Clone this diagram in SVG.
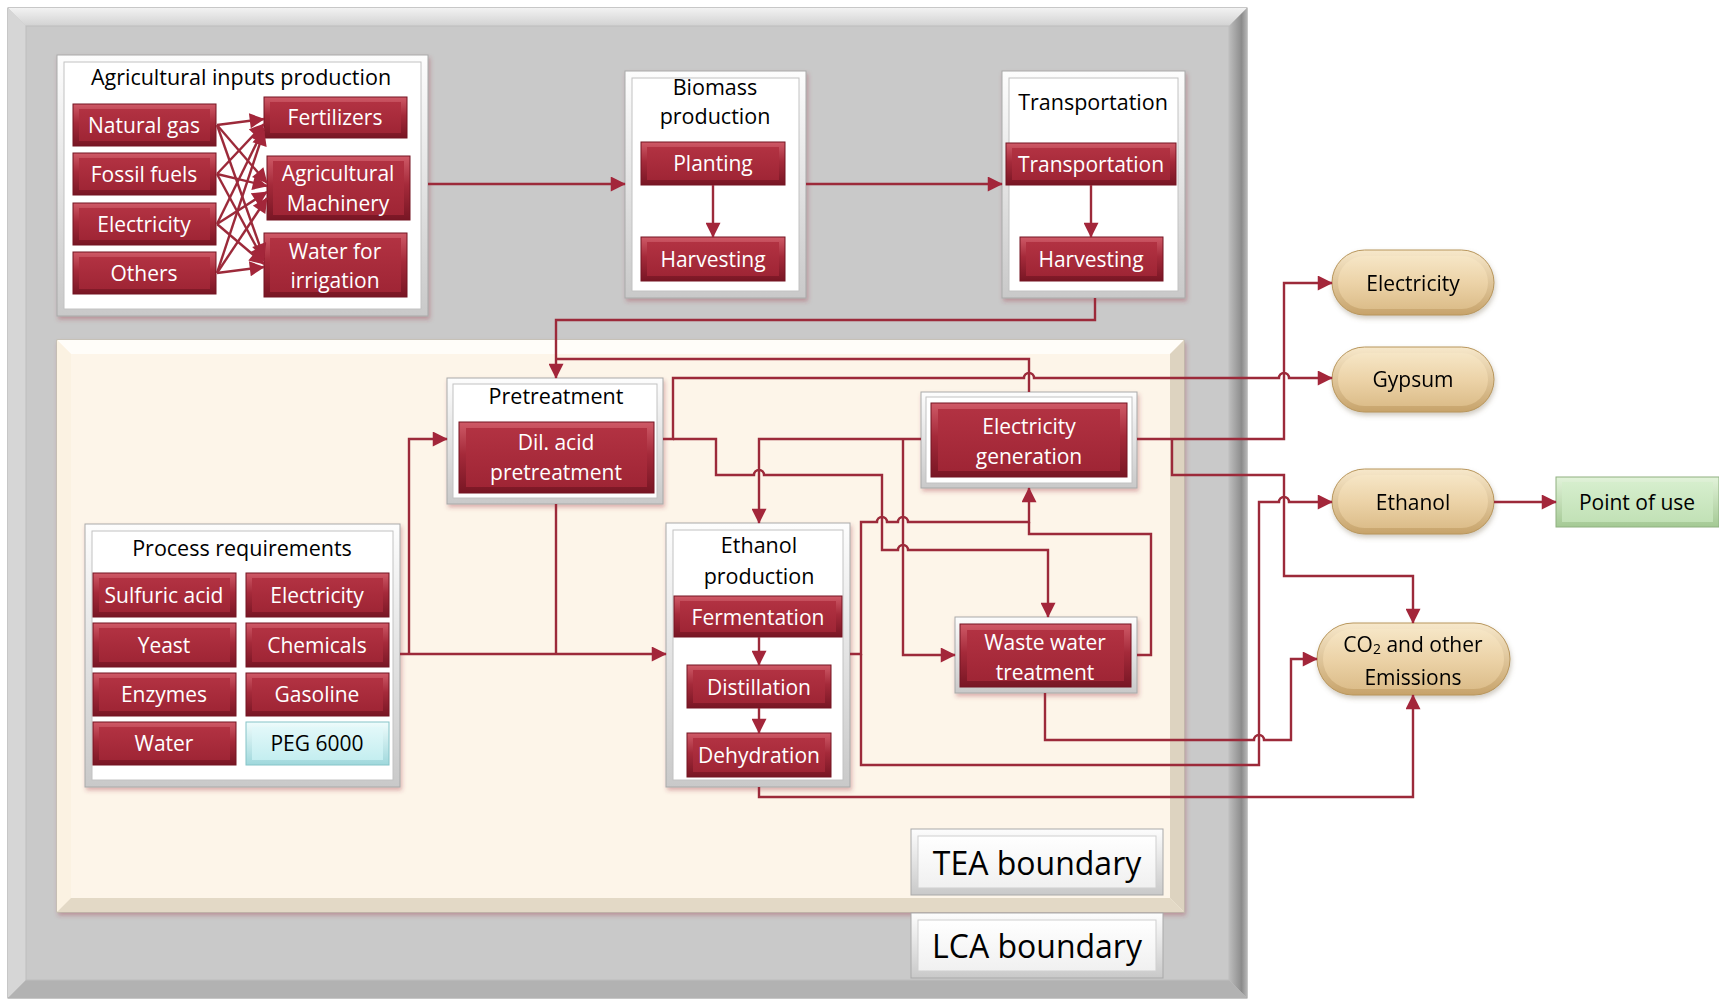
<svg xmlns="http://www.w3.org/2000/svg" width="1719" height="1001" viewBox="0 0 1719 1001">
<defs>
<linearGradient id="gRedO" x1="0" y1="0" x2="0" y2="1"><stop offset="0" stop-color="#cf5a67"/><stop offset="0.45" stop-color="#a52a3a"/><stop offset="1" stop-color="#781624"/></linearGradient>
<linearGradient id="gRedI" x1="0" y1="0" x2="0" y2="1"><stop offset="0" stop-color="#b23242"/><stop offset="1" stop-color="#9f2535"/></linearGradient>
<linearGradient id="gPill" x1="0" y1="0" x2="0" y2="1"><stop offset="0" stop-color="#f7e8cb"/><stop offset="1" stop-color="#c7a36a"/></linearGradient>
<linearGradient id="gPillIn" x1="0" y1="0" x2="0" y2="1"><stop offset="0" stop-color="#f6e6c6"/><stop offset="0.5" stop-color="#ecd3a8"/><stop offset="1" stop-color="#dcbd8a"/></linearGradient>
<linearGradient id="gGreen" x1="0" y1="0" x2="0" y2="1"><stop offset="0" stop-color="#e2f3da"/><stop offset="1" stop-color="#a4c994"/></linearGradient>
<linearGradient id="gGreenIn" x1="0" y1="0" x2="0" y2="1"><stop offset="0" stop-color="#d6eecd"/><stop offset="1" stop-color="#c2e1b6"/></linearGradient>
<linearGradient id="gCyan" x1="0" y1="0" x2="0" y2="1"><stop offset="0" stop-color="#effcfc"/><stop offset="1" stop-color="#9fd8dc"/></linearGradient>
<linearGradient id="gCyanIn" x1="0" y1="0" x2="0" y2="1"><stop offset="0" stop-color="#e2f8f9"/><stop offset="1" stop-color="#c4eef0"/></linearGradient>
<linearGradient id="gFrame" x1="0" y1="0" x2="0" y2="1"><stop offset="0" stop-color="#fdfdfd"/><stop offset="1" stop-color="#c9c9c9"/></linearGradient>
<linearGradient id="gLabel" x1="0" y1="0" x2="0" y2="1"><stop offset="0" stop-color="#ffffff"/><stop offset="1" stop-color="#f0f0f0"/></linearGradient>
<linearGradient id="gTopG" x1="0" y1="0" x2="0" y2="1"><stop offset="0" stop-color="#f2f2f2"/><stop offset="1" stop-color="#d2d2d2"/></linearGradient>
<linearGradient id="gRightG" x1="0" y1="0" x2="1" y2="0"><stop offset="0" stop-color="#bdbdbd"/><stop offset="0.7" stop-color="#8c8c8c"/><stop offset="1" stop-color="#b5b5b5"/></linearGradient>
<marker id="ah" viewBox="0 0 10 10" refX="9.5" refY="5" markerWidth="16" markerHeight="15" markerUnits="userSpaceOnUse" orient="auto"><path d="M0,0L10,5L0,10z" fill="#a3263a"/></marker>
<filter id="sh" x="-10%" y="-10%" width="125%" height="125%"><feDropShadow dx="1.5" dy="3" stdDeviation="2" flood-color="#a03444" flood-opacity="0.35"/></filter>
<filter id="shg" x="-10%" y="-10%" width="125%" height="130%"><feDropShadow dx="1" dy="3" stdDeviation="2.5" flood-color="#7a6a50" flood-opacity="0.35"/></filter>
</defs>
<style>
.c{fill:none;stroke:#9c2a3a;stroke-width:2.4}
.ca{fill:none;stroke:#9c2a3a;stroke-width:2.4;marker-end:url(#ah)}
text{font-family:"Open Sans","Liberation Sans",sans-serif;text-anchor:middle;dominant-baseline:central}
.w{fill:#ffffff;font-size:21px}
.k{fill:#000000;font-size:21px}
.t{fill:#000000;font-size:21.5px}
.big{fill:#000000;font-size:32px}
.ro{fill:url(#gRedO);stroke:#741522;stroke-width:1}
.ri{fill:url(#gRedI)}
.fo{fill:url(#gFrame);stroke:#a9a9a9;stroke-width:1}
.fi{fill:#ffffff;stroke:#c2c2c2;stroke-width:1}
.po{fill:url(#gPill);stroke:#b8965c;stroke-width:1}
.pi{fill:url(#gPillIn)}
</style>

<!-- LCA boundary (gray) -->
<g id="lca-area">
<rect x="8" y="8" width="1239" height="990" fill="#c9c9c9" stroke="#8f8f8f"/>
<polygon points="8,8 1247,8 1229,26 26,26" fill="url(#gTopG)"/>
<polygon points="8,8 26,26 26,980 8,998" fill="#d6d6d6"/>
<polygon points="1247,8 1247,998 1229,980 1229,26" fill="url(#gRightG)"/>
<polygon points="8,998 1247,998 1229,980 26,980" fill="#b2b2b2"/>
<rect x="26" y="26" width="1203" height="954" fill="#c9c9c9" stroke="#bdbdbd"/>
</g>

<!-- TEA boundary (beige) -->
<g id="tea-area" filter="url(#sh)">
<rect x="57" y="340" width="1127" height="572" fill="#fdf5e9" stroke="#c4bba8"/>
<polygon points="57,340 1184,340 1170,354 71,354" fill="#fffdf9"/>
<polygon points="57,340 71,354 71,898 57,912" fill="#fbf2e2"/>
<polygon points="1184,340 1184,912 1170,898 1170,354" fill="#ddd3c0"/>
<polygon points="57,912 1184,912 1170,898 71,898" fill="#e3d9c6"/>
<rect x="71" y="354" width="1099" height="544" fill="#fdf5e9"/>
</g>

<!-- Agricultural inputs production -->
<g id="agri">
<rect class="fo" x="57" y="55" width="371" height="261" filter="url(#sh)"/>
<rect class="fi" x="64" y="62" width="357" height="247"/>
<text class="t" x="241" y="76">Agricultural inputs production</text>
</g>
<g id="natural-gas"><rect class="ro" x="73" y="104" width="143" height="42"/><rect class="ri" x="79" y="109" width="131" height="32"/><text class="w" x="144" y="125">Natural gas</text></g>
<g id="fossil-fuels"><rect class="ro" x="73" y="153" width="143" height="42"/><rect class="ri" x="79" y="158" width="131" height="32"/><text class="w" x="144" y="174">Fossil fuels</text></g>
<g id="agri-electricity"><rect class="ro" x="73" y="203" width="143" height="42"/><rect class="ri" x="79" y="208" width="131" height="32"/><text class="w" x="144" y="224">Electricity</text></g>
<g id="others"><rect class="ro" x="73" y="252" width="143" height="42"/><rect class="ri" x="79" y="257" width="131" height="32"/><text class="w" x="144" y="273">Others</text></g>
<g id="fertilizers"><rect class="ro" x="264" y="97" width="143" height="41"/><rect class="ri" x="270" y="102" width="131" height="31"/><text class="w" x="335" y="117">Fertilizers</text></g>
<g id="agri-machinery"><rect class="ro" x="267" y="156" width="143" height="64"/><rect class="ri" x="273" y="161" width="131" height="54"/><text class="w" x="338" y="173">Agricultural</text><text class="w" x="338" y="203">Machinery</text></g>
<g id="water-irrigation"><rect class="ro" x="264" y="233" width="143" height="64"/><rect class="ri" x="270" y="238" width="131" height="54"/><text class="w" x="335" y="251">Water for</text><text class="w" x="335" y="280">irrigation</text></g>

<!-- Biomass production -->
<g id="biomass">
<rect class="fo" x="625" y="71" width="181" height="227" filter="url(#sh)"/>
<rect class="fi" x="632" y="78" width="167" height="213"/>
<text class="t" x="715" y="86">Biomass</text>
<text class="t" x="715" y="115">production</text>
</g>
<g id="planting"><rect class="ro" x="641" y="142" width="144" height="43"/><rect class="ri" x="647" y="147" width="132" height="33"/><text class="w" x="713" y="163">Planting</text></g>
<g id="harvesting-1"><rect class="ro" x="641" y="237" width="144" height="44"/><rect class="ri" x="647" y="242" width="132" height="34"/><text class="w" x="713" y="259">Harvesting</text></g>

<!-- Transportation -->
<g id="transportation">
<rect class="fo" x="1002" y="71" width="183" height="227" filter="url(#sh)"/>
<rect class="fi" x="1009" y="78" width="169" height="213"/>
<text class="t" x="1093" y="101">Transportation</text>
</g>
<g id="transportation-step"><rect class="ro" x="1006" y="143" width="170" height="42"/><rect class="ri" x="1012" y="148" width="158" height="32"/><text class="w" x="1091" y="164">Transportation</text></g>
<g id="harvesting-2"><rect class="ro" x="1020" y="237" width="143" height="44"/><rect class="ri" x="1026" y="242" width="131" height="34"/><text class="w" x="1091" y="259">Harvesting</text></g>

<!-- Pretreatment -->
<g id="pretreatment">
<rect class="fo" x="447" y="378" width="216" height="126" filter="url(#sh)"/>
<rect class="fi" x="453" y="384" width="204" height="114"/>
<text class="t" x="556" y="395">Pretreatment</text>
<rect class="ro" x="459" y="422" width="195" height="71"/><rect class="ri" x="466" y="428" width="181" height="59"/>
<text class="w" x="556" y="442">Dil. acid</text><text class="w" x="556" y="472">pretreatment</text>
</g>

<!-- Electricity generation -->
<g id="electricity-generation">
<rect class="fo" x="921" y="392" width="216" height="96" filter="url(#sh)"/>
<rect class="fi" x="926" y="397" width="206" height="86"/>
<rect class="ro" x="931" y="403" width="196" height="74"/><rect class="ri" x="938" y="409" width="182" height="62"/>
<text class="w" x="1029" y="426">Electricity</text><text class="w" x="1029" y="456">generation</text>
</g>

<!-- Ethanol production -->
<g id="ethanol-production">
<rect class="fo" x="666" y="523" width="184" height="264" filter="url(#sh)"/>
<rect class="fi" x="673" y="530" width="170" height="250"/>
<text class="t" x="759" y="544">Ethanol</text>
<text class="t" x="759" y="575">production</text>
</g>
<g id="fermentation"><rect class="ro" x="674" y="596" width="168" height="41"/><rect class="ri" x="680" y="601" width="156" height="31"/><text class="w" x="758" y="617">Fermentation</text></g>
<g id="distillation"><rect class="ro" x="687" y="665" width="144" height="43"/><rect class="ri" x="693" y="670" width="132" height="33"/><text class="w" x="759" y="687">Distillation</text></g>
<g id="dehydration"><rect class="ro" x="687" y="733" width="144" height="44"/><rect class="ri" x="693" y="738" width="132" height="34"/><text class="w" x="759" y="755">Dehydration</text></g>

<!-- Waste water treatment -->
<g id="waste-water">
<rect class="fo" x="955" y="617" width="182" height="76" filter="url(#sh)"/>
<rect class="ro" x="960" y="624" width="171" height="63"/><rect class="ri" x="967" y="630" width="157" height="51"/>
<text class="w" x="1045" y="642">Waste water</text><text class="w" x="1045" y="672">treatment</text>
</g>

<!-- Process requirements -->
<g id="process-requirements">
<rect class="fo" x="85" y="524" width="315" height="263" filter="url(#sh)"/>
<rect class="fi" x="92" y="531" width="301" height="249"/>
<text class="t" x="242" y="547">Process requirements</text>
</g>
<g id="sulfuric-acid"><rect class="ro" x="93" y="573" width="143" height="44"/><rect class="ri" x="99" y="578" width="131" height="34"/><text class="w" x="164" y="595">Sulfuric acid</text></g>
<g id="yeast"><rect class="ro" x="93" y="623" width="143" height="44"/><rect class="ri" x="99" y="628" width="131" height="34"/><text class="w" x="164" y="645">Yeast</text></g>
<g id="enzymes"><rect class="ro" x="93" y="673" width="143" height="43"/><rect class="ri" x="99" y="678" width="131" height="33"/><text class="w" x="164" y="694">Enzymes</text></g>
<g id="water"><rect class="ro" x="93" y="722" width="143" height="43"/><rect class="ri" x="99" y="727" width="131" height="33"/><text class="w" x="164" y="743">Water</text></g>
<g id="proc-electricity"><rect class="ro" x="246" y="573" width="143" height="44"/><rect class="ri" x="252" y="578" width="131" height="34"/><text class="w" x="317" y="595">Electricity</text></g>
<g id="chemicals"><rect class="ro" x="246" y="623" width="143" height="44"/><rect class="ri" x="252" y="628" width="131" height="34"/><text class="w" x="317" y="645">Chemicals</text></g>
<g id="gasoline"><rect class="ro" x="246" y="673" width="143" height="43"/><rect class="ri" x="252" y="678" width="131" height="33"/><text class="w" x="317" y="694">Gasoline</text></g>
<g id="peg-6000"><rect x="246" y="722" width="143" height="43" fill="url(#gCyan)" stroke="#86c4c8"/><rect x="252" y="727" width="131" height="33" fill="url(#gCyanIn)"/><text class="k" x="317" y="743">PEG 6000</text></g>

<!-- Boundary labels -->
<g id="tea-label"><rect class="fo" x="911" y="829" width="252" height="66"/><rect x="918" y="836" width="238" height="52" fill="url(#gLabel)" stroke="#cfcfcf"/><text class="big" x="1037" y="862">TEA boundary</text></g>
<g id="lca-label"><rect class="fo" x="911" y="913" width="252" height="65"/><rect x="918" y="920" width="238" height="51" fill="url(#gLabel)" stroke="#cfcfcf"/><text class="big" x="1037" y="945">LCA boundary</text></g>

<!-- Outputs -->
<g id="out-electricity" filter="url(#shg)"><rect class="po" x="1332" y="250" width="162" height="65" rx="32.5"/><rect class="pi" x="1338" y="256" width="150" height="53" rx="26.5"/><text class="k" x="1413" y="283">Electricity</text></g>
<g id="out-gypsum" filter="url(#shg)"><rect class="po" x="1332" y="347" width="162" height="65" rx="32.5"/><rect class="pi" x="1338" y="353" width="150" height="53" rx="26.5"/><text class="k" x="1413" y="379">Gypsum</text></g>
<g id="out-ethanol" filter="url(#shg)"><rect class="po" x="1332" y="469" width="162" height="65" rx="32.5"/><rect class="pi" x="1338" y="475" width="150" height="53" rx="26.5"/><text class="k" x="1413" y="502">Ethanol</text></g>
<g id="out-co2" filter="url(#shg)"><rect class="po" x="1317" y="623" width="193" height="72" rx="36"/><rect class="pi" x="1323" y="629" width="181" height="60" rx="30"/><text class="k" x="1413" y="644">CO<tspan font-size="14" dy="4">2</tspan><tspan dy="-4"> and other</tspan></text><text class="k" x="1413" y="677">Emissions</text></g>
<g id="point-of-use"><rect x="1556" y="477" width="163" height="50" fill="url(#gGreen)" stroke="#8fb080"/><rect x="1562" y="482" width="151" height="40" fill="url(#gGreenIn)"/><text class="k" x="1637" y="502">Point of use</text></g>

<!-- Connectors -->
<g id="connectors">
<path class="ca" d="M217,125 L264,119"/>
<path class="ca" d="M217,174 L264,124"/>
<path class="ca" d="M217,224 L264,128"/>
<path class="ca" d="M217,273 L264,131"/>
<path class="ca" d="M217,125 L267,183"/>
<path class="ca" d="M217,174 L267,186"/>
<path class="ca" d="M217,224 L267,192"/>
<path class="ca" d="M217,273 L267,198"/>
<path class="ca" d="M217,125 L264,258"/>
<path class="ca" d="M217,174 L264,261"/>
<path class="ca" d="M217,224 L264,264"/>
<path class="ca" d="M217,273 L264,267"/>

<path class="ca" d="M428,184 H625"/>
<path class="ca" d="M806,184 H1002"/>
<path class="ca" d="M713,185 V237"/>
<path class="ca" d="M1091,185 V237"/>
<path class="ca" d="M1095,298 V320 H556 V378"/>
<path class="c" d="M1029,392 V359 H556"/>
<path class="ca" d="M663,439 H673 V378 H1024 a5,5 0 0 1 10,0 H1279 a5,5 0 0 1 10,0 H1332"/>
<path class="ca" d="M673,439 H716 V475 H754 a5,5 0 0 1 10,0 H882 V550 H898 a5,5 0 0 1 10,0 H1048 V617"/>
<path class="ca" d="M921,439 H759 V523"/>
<path class="ca" d="M903,439 V655 H955"/>
<path class="ca" d="M850,654 H861 V522 H877 a5,5 0 0 1 10,0 H898 a5,5 0 0 1 10,0 H1029 V488"/>
<path class="c" d="M1137,655 H1151 V534 H1029 V522"/>
<path class="ca" d="M861,654 V765 H1259 V502 H1279 a5,5 0 0 1 10,0 H1332"/>
<path class="ca" d="M1137,439 H1284 V283 H1332"/>
<path class="ca" d="M1172,439 V475 H1284 V576 H1413 V623"/>
<path class="ca" d="M1045,693 V740 H1254 a5,5 0 0 1 10,0 H1291 V659 H1317"/>
<path class="ca" d="M759,787 V797 H1413 V695"/>
<path class="ca" d="M400,654 H666"/>
<path class="ca" d="M409,654 V439 H447"/>
<path class="c" d="M556,504 V654"/>
<path class="ca" d="M759,637 V665"/>
<path class="ca" d="M759,708 V733"/>
<path class="ca" d="M1494,502 H1556"/>
</g>
</svg>
